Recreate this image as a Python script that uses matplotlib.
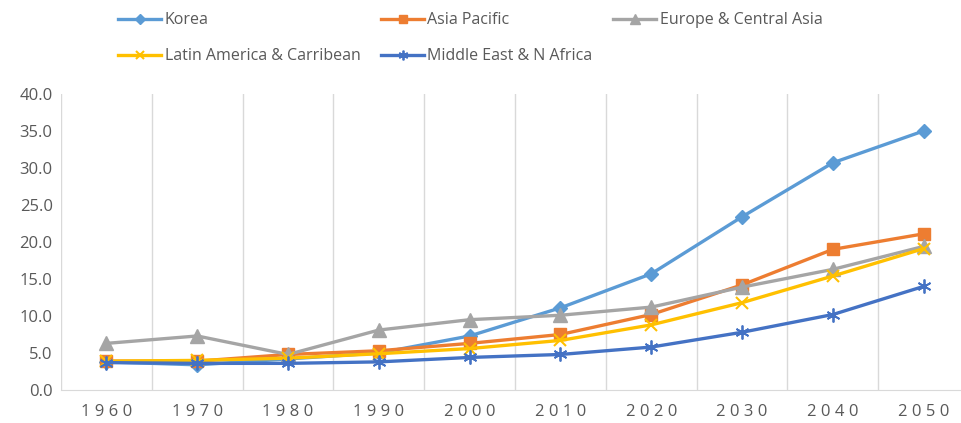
import numpy as np
import matplotlib.pyplot as plt

plt.rcParams['font.family'] = ['Open Sans', 'DejaVu Sans']

years = ['1960', '1970', '1980', '1990', '2000', '2010', '2020', '2030', '2040', '2050']

korea = [3.8, 3.4, 4.2, 5.0, 7.3, 11.1, 15.7, 23.4, 30.7, 35.0]
asia_pacific = [3.9, 3.9, 4.8, 5.3, 6.3, 7.5, 10.2, 14.2, 19.0, 21.1]
europe = [6.3, 7.3, 4.8, 8.1, 9.5, 10.1, 11.2, 13.9, 16.3, 19.4]
latin = [3.9, 4.0, 4.3, 4.9, 5.6, 6.7, 8.8, 11.8, 15.4, 19.1]
mena = [3.7, 3.6, 3.6, 3.8, 4.4, 4.8, 5.8, 7.8, 10.2, 14.0]

x = np.arange(len(years))

fig = plt.figure(figsize=(9.62, 4.23), dpi=100)
ax = fig.add_axes([0.0634, 0.078, 0.944, 0.700])

lw = 2.4
h1, = ax.plot(x, korea, color='#5B9BD5', lw=lw, marker='D', ms=7, label='Korea')
h2, = ax.plot(x, asia_pacific, color='#ED7D31', lw=lw, marker='s', ms=9, label='Asia Pacific')
h3, = ax.plot(x, europe, color='#A5A5A5', lw=lw, marker='^', ms=10, label='Europe & Central Asia')
h4, = ax.plot(x, latin, color='#FFC000', lw=lw, marker='x', ms=9, mew=1.5,
              label='Latin America & Carribean')
h5, = ax.plot(x, mena, color='#4472C4', lw=lw, marker=(6, 2, 0), ms=10, mew=1.3,
              label='Middle East & N Africa')

ax.set_xlim(-0.5, 9.5)
ax.set_ylim(0, 40)
ax.set_yticks(np.arange(0, 41, 5))
ax.set_yticklabels(['%.1f' % v for v in np.arange(0, 41, 5)])
ax.set_xticks(x)
ax.set_xticklabels([' '.join(y) for y in years])
ax.set_xticks(np.arange(-0.5, 10, 1), minor=True)
ax.grid(which='minor', axis='x', color='#D9D9D9', lw=1)
ax.tick_params(which='both', length=0, labelsize=12, colors='#595959')
ax.tick_params(axis='x', pad=10)
ax.tick_params(axis='y', pad=6)
for s in ['top', 'right', 'left']:
    ax.spines[s].set_visible(False)
ax.spines['bottom'].set_color('#D9D9D9')

fig.legend([h1, h4, h2, h5, h3],
           [h.get_label() for h in [h1, h4, h2, h5, h3]],
           ncol=3, loc='upper left', bbox_to_anchor=(0.108, 1.005),
           frameon=False, fontsize=11.5, labelcolor='#595959',
           handlelength=2.7, handletextpad=0.2, columnspacing=1.3,
           labelspacing=1.25, markerscale=0.7)

fig.savefig('out.png', dpi=100)
